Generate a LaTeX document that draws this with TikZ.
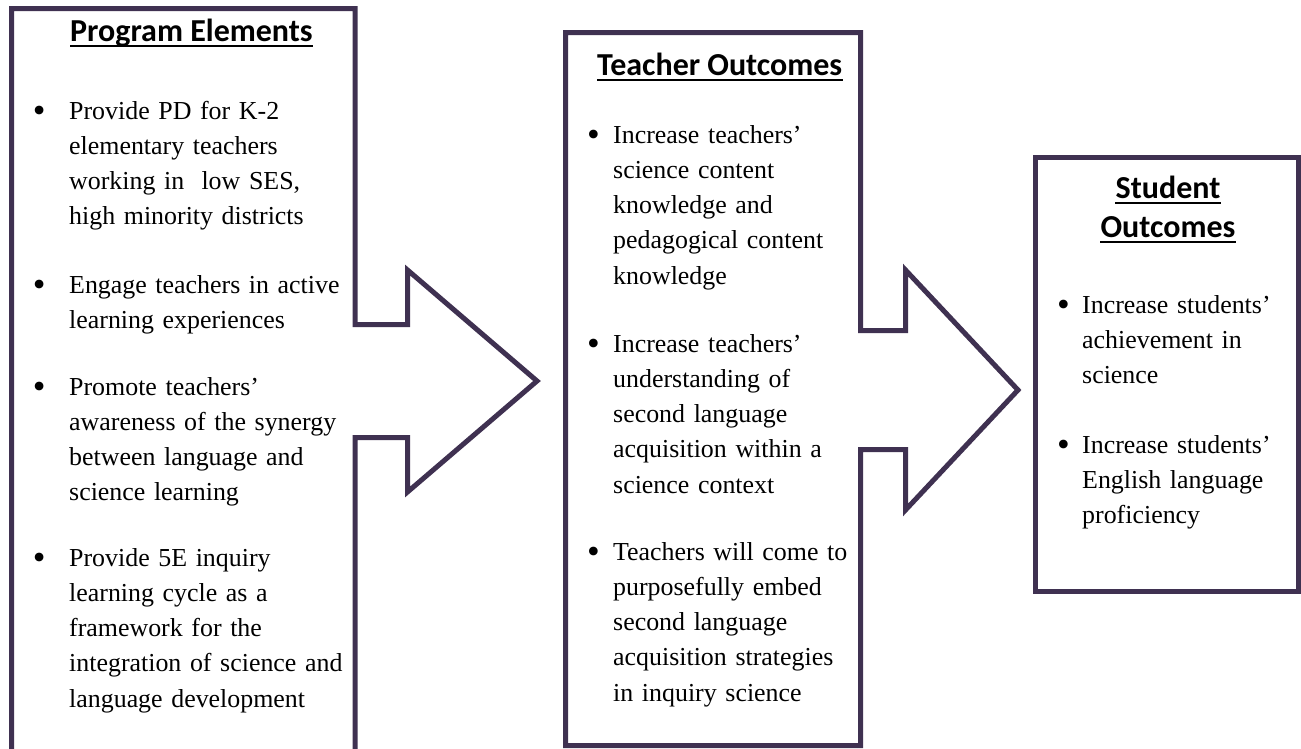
\documentclass[tikz,border=0pt]{standalone}
\usepackage{fontspec}
\setmainfont{Liberation Serif}
\newfontfamily\titlefont{Carlito}
\usetikzlibrary{calc}
\definecolor{frame}{HTML}{3F3151}
\newcommand\bl[1]{\leavevmode\llap{\raisebox{-3.5pt}{\scalebox{1.4}{•}}\hspace{#1}}}
\begin{document}
\begin{tikzpicture}[x=1pt,y=-1pt,
  outline/.style={draw=frame, line width=5pt, line join=miter},
  ttl/.style={inner sep=0pt, font=\titlefont\bfseries\fontsize{32}{39}\selectfont},
  item/.style={inner sep=0pt, anchor=base west, text width=300pt, align=left,
    font=\fontsize{25.9}{35.3}\selectfont},
  ul/.style={line width=2pt}]
\useasboundingbox (0,0) rectangle (1301,748);
\begin{scope}
\clip (0,0) rectangle (1301,748);
% box 1 with arrow
\draw[outline] (11.5,770) -- (11.5,8.5) -- (355,8.5) -- (355,324.5) -- (407.5,324.5)
  -- (407.5,270) -- (537,381) -- (407.5,492) -- (407.5,437.5) -- (355,437.5) -- (355,770);
% box 2 with arrow
\draw[outline] (860.5,449.5) -- (860.5,745.5) -- (565.5,745.5) -- (565.5,32.5) -- (860.5,32.5)
  -- (860.5,330.5) -- (905.5,330.5) -- (905.5,270) -- (1018,390) -- (905.5,510)
  -- (905.5,449.5) -- cycle;
% box 3
\draw[outline] (1035.5,157.5) rectangle (1298.5,591.5);
\end{scope}
% titles
\node[ttl, anchor=base west] (t1) at (70,41.7) {Program Elements};
\node[ttl, anchor=base west] (t2) at (597,75) {Teacher Outcomes};
\node[ttl, anchor=base] (t3a) at (1168,198) {Student};
\node[ttl, anchor=base] (t3b) at (1168,237) {Outcomes};
\foreach \n in {t1,t2,t3a,t3b}
  \draw[ul] ($(\n.base west)+(0,4.5)$) -- ($(\n.base east)+(0,4.5)$);
% box 1 items
\node[item] (a1) at (69,119) {\bl{23.6pt}Provide PD for K-2\\elementary teachers\\working in\ \ low SES,\\high minority districts};
\node[item] (a2) at (69,293) {\bl{23.6pt}Engage teachers in active\\learning experiences};
\node[item] (a3) at (69,395) {\bl{23.6pt}Promote teachers’\\awareness of the synergy\\between language and\\science learning};
\node[item] (a4) at (69,566) {\bl{23.6pt}Provide 5E inquiry\\learning cycle as a\\framework for the\\integration of science and\\language development};
% box 2 items
\node[item] (b1) at (613,143) {\bl{13.3pt}Increase teachers’\\science content\\knowledge and\\pedagogical content\\knowledge};
\node[item] (b2) at (613,352) {\bl{13.3pt}Increase teachers’\\understanding of\\second language\\acquisition within a\\science context};
\node[item] (b3) at (613,560) {\bl{13.3pt}Teachers will come to\\purposefully embed\\second language\\acquisition strategies\\in inquiry science};
% box 3 items
\node[item] (c1) at (1082,313) {\bl{12.3pt}Increase students’\\achievement in\\science};
\node[item] (c2) at (1082,453) {\bl{12.3pt}Increase students’\\English language\\proficiency};
\end{tikzpicture}
\end{document}
